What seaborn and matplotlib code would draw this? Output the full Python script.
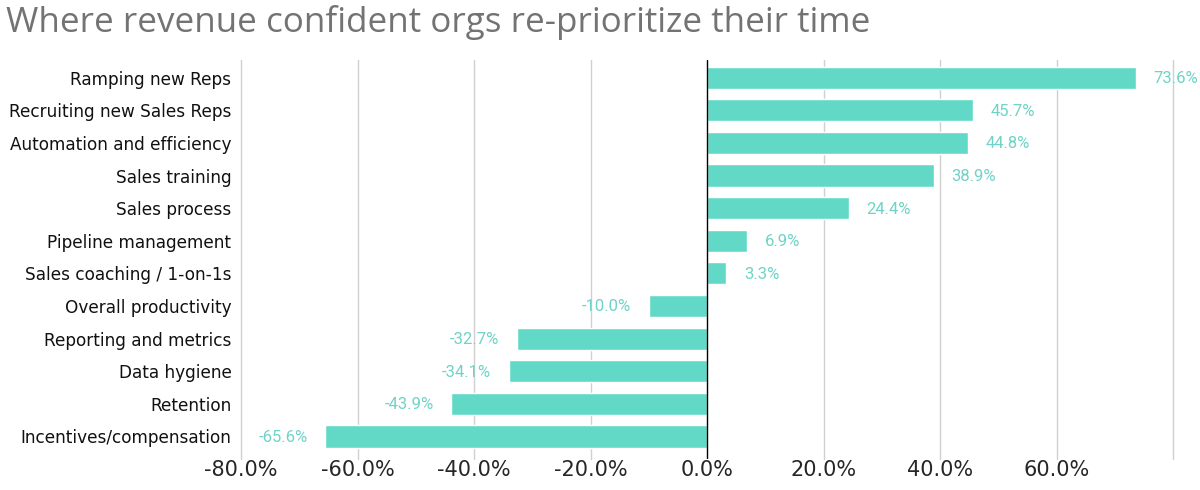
import pandas as pd
import matplotlib.pyplot as plt
import seaborn as sns

# areas where revenue-confident orgs re-prioritize their time (% change)
areas = ['Ramping new Reps', 'Recruiting new Sales Reps', 'Automation and efficiency',
         'Sales training', 'Sales process', 'Pipeline management',
         'Sales coaching / 1-on-1s', 'Overall productivity', 'Reporting and metrics',
         'Data hygiene', 'Retention', 'Incentives/compensation']
change = [73.6, 45.7, 44.8, 38.9, 24.4, 6.9, 3.3, -10.0, -32.7, -34.1, -43.9, -65.6]
ticks = [-80, -60, -40, -20, 0, 20, 40, 60]

df = pd.DataFrame({'area': areas, 'change': change})
cor = '#62d9c7'
cor_txt = '#6fd3c7'

sns.set_style('white')
plt.rcParams['font.family'] = ['DejaVu Sans']

fig = plt.figure(figsize=(12, 4.9), dpi=100)
ax = fig.add_axes([0.201, 0.064, 0.7765, 0.814])

sns.barplot(data=df, x='change', y='area', orient='h', color=cor, width=0.68,
            saturation=1, ax=ax)

for i, v in enumerate(change):
    if v >= 0:
        ax.text(v + 3.0, i + 0.03, f'{v:.1f}%', va='center', ha='left', color=cor_txt,
                fontsize=12, family='Roboto')
    else:
        ax.text(v - 3.0, i + 0.03, f'{v:.1f}%', va='center', ha='right', color=cor_txt,
                fontsize=12, family='Roboto')

for t in ticks + [80]:
    if t != 0:
        ax.axvline(t, color='#d0d0d0', lw=1, zorder=0, clip_on=False)
ax.axvline(0, color='black', lw=1, zorder=3)

ax.set_xlim(-80, 80)
ax.set_ylim(11.68, -0.55)
ax.set_xticks(ticks)
ax.set_xticklabels([f'{t:.1f}%' for t in ticks], fontsize=15)
ax.tick_params(axis='y', labelsize=12.2, length=0, pad=7, labelcolor='#111111')
ax.tick_params(axis='x', length=0, pad=1)
ax.set_xlabel('')
ax.set_ylabel('')
for s in ax.spines.values():
    s.set_visible(False)

fig.text(0.005, 0.955, 'Where revenue confident orgs re-prioritize their time',
         fontsize=25.2, color='#737373', family='Open Sans', va='center', ha='left')

fig.savefig('out.png', dpi=100)
